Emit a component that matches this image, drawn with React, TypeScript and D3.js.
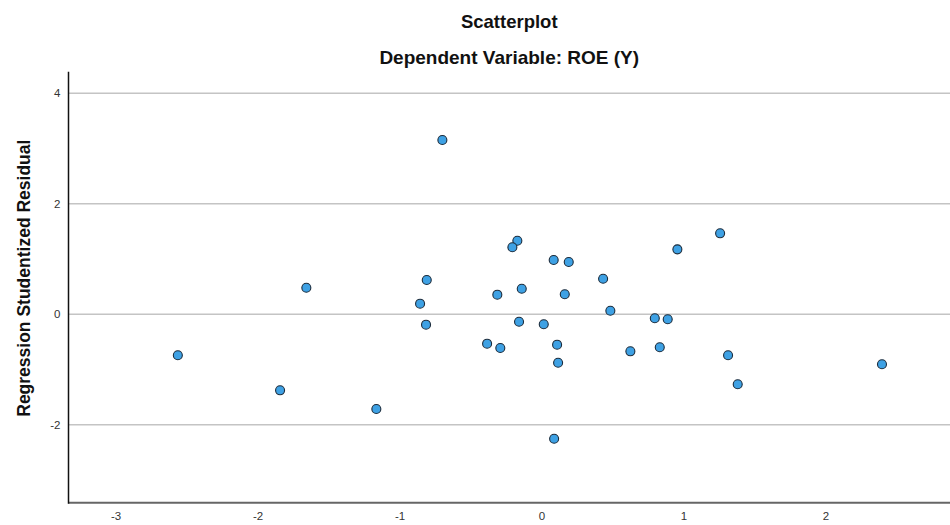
import React, { useEffect, useRef } from 'react'
import * as d3 from 'd3'

// standardized predicted value (x) vs studentized residual (y)
const predicted = [
  -2.565, -1.845, -1.66, -1.167, -0.702, -0.812, -0.859, -0.817, -0.387, -0.294, -0.315,
  -0.143, -0.174, -0.209, -0.162, 0.012, 0.082, 0.188, 0.43, 0.16, 0.481, 0.794,
  0.885, 0.106, 0.113, 0.622, 0.829, 0.953, 1.254, 1.31, 1.378, 0.085, 2.394,
]
const residual = [
  -0.742, -1.376, 0.481, -1.714, 3.155, 0.621, 0.192, -0.188, -0.532, -0.61, 0.355,
  0.463, 1.332, 1.213, -0.134, -0.181, 0.983, 0.947, 0.644, 0.362, 0.065, -0.072,
  -0.09, -0.55, -0.876, -0.67, -0.597, 1.176, 1.466, -0.742, -1.267, -2.252, -0.905,
]
const xTicks = [-3, -2, -1, 0, 1, 2]
const yTicks = [-2, 0, 2, 4]

const title = 'Scatterplot'
const subtitle = 'Dependent Variable: ROE (Y)'
const yLabel = 'Regression Studentized Residual'

const width = 950
const height = 525
const margin = { left: 68.5, top: 71.7, right: 0, bottom: 22.3 }
const font = 'Arial, "Liberation Sans", Helvetica, sans-serif'

function Scatter() {
  const node = useRef<SVGSVGElement>(null)

  useEffect(() => {
    const svg = d3.select(node.current)
    svg.selectAll('*').remove()

    const x = d3.scaleLinear()
      .domain([-3.335, 2.873])
      .range([margin.left, width - margin.right])
    const y = d3.scaleLinear()
      .domain([-3.41, 4.391])
      .range([height - margin.bottom, margin.top])

    // horizontal grid
    svg.append('g')
      .selectAll('line')
      .data(yTicks)
      .enter()
      .append('line')
      .attr('x1', margin.left)
      .attr('x2', width - margin.right)
      .attr('y1', d => y(d))
      .attr('y2', d => y(d))
      .style('stroke', '#c4c4c4')
      .style('stroke-width', 1.5)

    // y tick labels
    svg.append('g')
      .selectAll('text')
      .data(yTicks)
      .enter()
      .append('text')
      .text(d => d)
      .attr('x', margin.left - 8)
      .attr('y', d => y(d))
      .attr('dy', '0.35em')
      .attr('text-anchor', 'end')
      .style('font-family', font)
      .style('font-size', '11.5px')
      .style('fill', '#333')

    // x tick labels
    svg.append('g')
      .selectAll('text')
      .data(xTicks)
      .enter()
      .append('text')
      .text(d => d)
      .attr('x', d => x(d))
      .attr('y', 520)
      .attr('text-anchor', 'middle')
      .style('font-family', font)
      .style('font-size', '11.5px')
      .style('fill', '#333')

    // axes
    svg.append('line')
      .attr('x1', margin.left)
      .attr('x2', width - margin.right)
      .attr('y1', height - margin.bottom)
      .attr('y2', height - margin.bottom)
      .style('stroke', '#666')
      .style('stroke-width', 2)
    svg.append('line')
      .attr('x1', margin.left)
      .attr('x2', margin.left)
      .attr('y1', margin.top)
      .attr('y2', height - margin.bottom + 1)
      .style('stroke', '#111')
      .style('stroke-width', 1.5)

    // points
    svg.append('g')
      .selectAll('circle')
      .data(d3.zip(predicted, residual))
      .enter()
      .append('circle')
      .attr('cx', d => x(d[0]))
      .attr('cy', d => y(d[1]))
      .attr('r', 4.5)
      .style('fill', '#3ea1e4')
      .style('stroke', '#1b2b3b')
      .style('stroke-width', 1.1)

    const cx = (margin.left + width - margin.right) / 2
    svg.append('text')
      .text(title)
      .attr('x', cx)
      .attr('y', 28)
      .attr('text-anchor', 'middle')
      .style('font-family', font)
      .style('font-weight', 'bold')
      .style('font-size', '18.5px')
      .style('fill', '#111')
    svg.append('text')
      .text(subtitle)
      .attr('x', cx)
      .attr('y', 64)
      .attr('text-anchor', 'middle')
      .style('font-family', font)
      .style('font-weight', 'bold')
      .style('font-size', '19px')
      .style('fill', '#111')

    svg.append('text')
      .text(yLabel)
      .attr('transform', `translate(30,${(margin.top + height - margin.bottom) / 2 - 9}) rotate(-90)`)
      .attr('text-anchor', 'middle')
      .style('font-family', font)
      .style('font-weight', 'bold')
      .style('font-size', '17.5px')
      .style('fill', '#111')
  }, [])

  return <svg ref={node} width={width} height={height}
    style={{ position: 'absolute', left: 0, top: 0, background: '#fff' }} />
}

export default function App() {
  return <Scatter />
}
